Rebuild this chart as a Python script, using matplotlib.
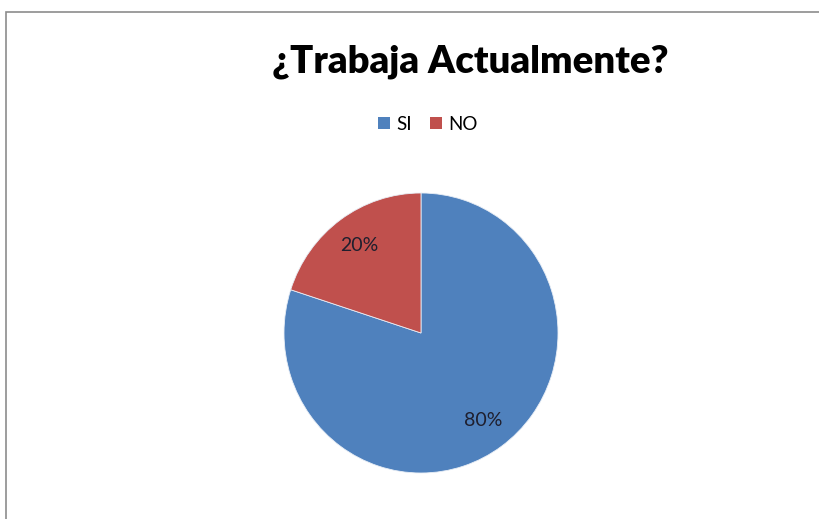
import matplotlib
matplotlib.use("Agg")
import matplotlib.pyplot as plt
import matplotlib.patches as patches

# data
labels = ["SI", "NO"]
values = [80, 20]
colors = ["#4F81BD", "#C0504D"]
title = "¿Trabaja Actualmente?"

W, H = 820, 519
fig = plt.figure(figsize=(W / 100, H / 100), dpi=100)
fig.patch.set_facecolor("white")

# chart border (only top and left visible in the reference)
fig.patches.append(patches.Rectangle((6 / W, -0.1), 1.2, 1.1 - 12 / H,
                                     transform=fig.transFigure, fill=False,
                                     edgecolor="#8c8c8c", linewidth=1.2))

# pie axes: center (421, 333) px, radius ~137 x 140
cx, cy, rx, ry = 421, 333, 137, 140
ax = fig.add_axes([(cx - rx) / W, (H - cy - ry) / H, 2 * rx / W, 2 * ry / H])
wedges, texts, autotexts = ax.pie(values, colors=colors, startangle=90,
                                  counterclock=False, autopct="%1.0f%%",
                                  pctdistance=0.77, radius=1,
                                  wedgeprops=dict(linewidth=0.6, edgecolor="#e8eef6"),
                                  textprops=dict(fontsize=14, color="#1f1f2e",
                                                 family="Lato"))
ax.set_xlim(-1, 1)
ax.set_ylim(-1, 1)
ax.set_aspect("auto")
ax.axis("off")

fig.text(470 / W, 1 - 62 / H, title, ha="center", va="center",
         fontsize=27.5, fontweight="heavy", family="Lato", color="black")

handles = [patches.Patch(facecolor=c, edgecolor="none") for c in colors]
fig.legend(handles, labels, loc="center", bbox_to_anchor=(428 / W, 1 - 124 / H),
           ncol=2, frameon=False, handlelength=0.6, handleheight=0.6,
           handletextpad=0.35, columnspacing=1.0,
           prop=dict(family="Lato", size=13.5))

fig.savefig("out.png", dpi=100, facecolor="white")
